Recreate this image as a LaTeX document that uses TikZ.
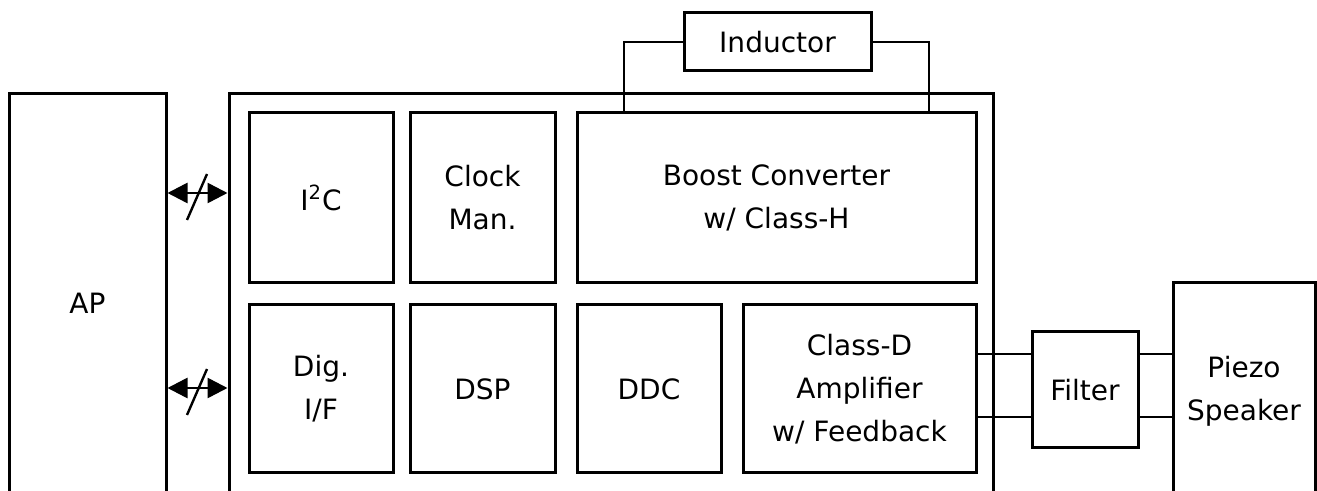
\documentclass[tikz,border=0pt]{standalone}
\usepackage{fontspec}
\setmainfont{DejaVu Sans}
\usetikzlibrary{arrows.meta}
\begin{document}
\begin{tikzpicture}[x=0.5pt,y=-0.5pt,
    blk/.style={draw,line width=1.5pt,align=center,inner sep=0pt,
        font=\fontsize{14}{21.5}\selectfont},
    wire/.style={line width=1pt},
    bus/.style={line width=1.3pt,{Triangle[length=10pt,width=10pt]}-{Triangle[length=10pt,width=10pt]}}]
    \useasboundingbox (0,0) rectangle (1317,491);
    \clip (0,0) rectangle (1317,491);

    % outer parts, open at the bottom
    \node[blk,minimum width=78.5pt,minimum height=209pt] (ap) at (87.5,303) {AP};
    \node[blk,minimum width=382pt,minimum height=209pt] (chip) at (611,303) {};
    \node[blk,minimum width=71pt,minimum height=108.5pt] (spk) at (1244,391.5) {Piezo\\Speaker};

    % upper row
    \node[blk,minimum width=72pt,minimum height=85pt] (i2c) at (321,198) {I\textsuperscript{2}C};
    \node[blk,minimum width=72.5pt,minimum height=85pt] (clk) at (482.5,198) {Clock\\Man.};
    \node[blk,minimum width=199.5pt,minimum height=85pt] (bst) at (776.5,198) {Boost Converter\\w/ Class-H};

    % lower row
    \node[blk,minimum width=72pt,minimum height=84pt] (dif) at (321,389) {Dig.\\I/F};
    \node[blk,minimum width=72.5pt,minimum height=84pt] (dsp) at (482.5,389) {DSP};
    \node[blk,minimum width=72pt,minimum height=84pt] (ddc) at (649,389) {DDC};
    \node[blk,minimum width=116.5pt,minimum height=84pt] (amp) at (859.5,389) {Class-D\\Amplifier\\w/ Feedback};

    \node[blk,minimum width=53pt,minimum height=58pt] (flt) at (1085,390) {Filter};
    \node[blk,minimum width=93.5pt,minimum height=29pt] (ind) at (777.5,42) {Inductor};

    % inductor leads
    \coordinate (lt) at (624,0);
    \coordinate (rt) at (929,0);
    \draw[wire] (ind.west) -| (lt |- bst.north);
    \draw[wire] (ind.east) -| (rt |- bst.north);

    % output leads
    \coordinate (o1) at (0,354);
    \coordinate (o2) at (0,417);
    \draw[wire] (amp.east |- o1) -- (flt.west |- o1);
    \draw[wire] (amp.east |- o2) -- (flt.west |- o2);
    \draw[wire] (flt.east |- o1) -- (spk.west |- o1);
    \draw[wire] (flt.east |- o2) -- (spk.west |- o2);

    % buses to the AP
    \coordinate (b1) at (0,193);
    \coordinate (b2) at (0,388);
    \draw[bus] (ap.east |- b1) -- (chip.west |- b1);
    \draw[bus] (ap.east |- b2) -- (chip.west |- b2);
    \draw[line width=1.2pt] (197,193) +(-10,27) -- +(10,-19);
    \draw[line width=1.2pt] (197,388) +(-10,27) -- +(10,-19);
\end{tikzpicture}
\end{document}
